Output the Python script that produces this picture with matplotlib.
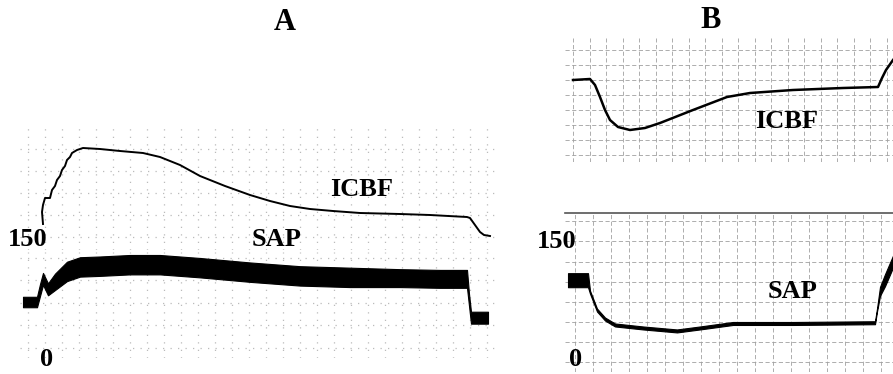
import numpy as np
import matplotlib
matplotlib.use("Agg")
import matplotlib.pyplot as plt

# panel A - ICBF trace (time s, flow arbitrary units)
a_icbf_t = [23, 22, 23, 25, 30, 32, 35, 37, 40, 42, 45, 47, 50, 52, 57, 63, 80, 100, 123, 140,
            160, 180, 205, 230, 250, 270, 290, 313, 340, 380, 410, 447, 450, 455, 460, 464, 470]
a_icbf_v = [21, 33, 40, 47, 47, 55, 59, 65, 69, 75, 79, 85, 88, 92, 95, 97, 96, 94, 92, 88,
            80, 69, 59, 50, 44, 39, 36, 34, 32, 31, 30, 28, 27, 20, 13, 10, 9]

# panel A - SAP (mean mmHg and half pulse amplitude)
a_sap_t = [3, 17, 20, 23, 28, 35, 47, 60, 80, 110, 140, 180, 230, 280, 330, 380, 420, 447, 449, 451, 468]
a_sap_mean = [71, 71, 87, 102, 88, 98, 112, 118, 119, 121, 121, 117, 111, 106, 104, 103, 102, 102, 74, 50, 50]
a_sap_half = [7, 7, 8, 8, 8, 11, 13, 13, 13, 13, 13, 13, 13, 13, 13, 12, 12, 12, 8, 8, 8]

# panel B - ICBF trace
b_icbf_t = [8, 25, 30, 35, 40, 45, 53, 65, 80, 95, 128, 162, 185, 228, 278, 313, 317, 321, 328]
b_icbf_v = [80, 81, 75, 63, 50, 40, 33, 30, 32, 37, 50, 63, 67, 70, 72, 73, 82, 90, 100]

# panel B - SAP
b_sap_t = [3, 23, 25, 32, 40, 50, 78, 112, 135, 168, 228, 310, 312, 315, 320, 328]
b_sap_mean = [100, 100, 84, 60, 48, 40, 36, 32, 36, 42, 42, 43, 60, 85, 100, 125]
b_sap_half = [9.4, 9.4, 2, 2, 2, 2, 2, 2, 2, 2, 2, 2, 2, 6, 8, 8]

W, H = 893, 374
fig = plt.figure(figsize=(W / 100, H / 100), dpi=100)
fig.patch.set_facecolor("white")

serif = {"family": "Liberation Serif", "weight": "bold"}


def px_axes(x0, y0, x1, y1):
    ax = fig.add_axes([x0 / W, 1 - y1 / H, (x1 - x0) / W, (y1 - y0) / H])
    ax.tick_params(length=0, labelbottom=False, labelleft=False)
    for s in ax.spines.values():
        s.set_visible(False)
    ax.set_facecolor("none")
    ax.set_axisbelow(True)
    return ax


# ---- panel A ----
axA1 = px_axes(20, 128, 495, 250)
axA1.set_xlim(0, 475)
axA1.set_ylim(-5, 117)
axA1.set_xticks(np.arange(8, 475, 17))
axA1.set_yticks(np.arange(8, 117, 22))
axA1.grid(True, color="#bbbbbb", linestyle=(0, (1, 5)), linewidth=0.9)
axA1.plot(a_icbf_t, a_icbf_v, color="black", linewidth=1.4, zorder=3)

axA2 = px_axes(20, 252, 495, 358)
axA2.set_xlim(0, 475)
axA2.set_ylim(-4, 138)
axA2.set_xticks(np.arange(8, 475, 17))
axA2.set_yticks(np.arange(10, 138, 30))
axA2.grid(True, color="#bbbbbb", linestyle=(0, (1, 5)), linewidth=0.9)
lo = np.array(a_sap_mean) - np.array(a_sap_half)
hi = np.array(a_sap_mean) + np.array(a_sap_half)
axA2.fill_between(a_sap_t, lo, hi, color="black", linewidth=0.8, zorder=3)

# ---- panel B ----
axB1 = px_axes(565, 38, 893, 162)
axB1.set_xlim(0, 328)
axB1.set_ylim(-2, 122)
axB1.set_xticks(np.arange(8, 328, 16.5))
axB1.set_yticks(np.arange(5, 122, 15))
axB1.grid(True, color="#a0a0a0", linestyle=(0, (5, 3)), linewidth=0.6)
axB1.plot(b_icbf_t, b_icbf_v, color="black", linewidth=1.8, zorder=3)

axB2 = px_axes(565, 213, 893, 372)
axB2.set_xlim(0, 328)
axB2.set_ylim(-23, 190)
axB2.set_xticks(np.arange(10, 328, 18))
axB2.set_yticks(np.arange(-10, 190, 27))
axB2.grid(True, color="#a0a0a0", linestyle=(0, (5, 3)), linewidth=0.6)
axB2.spines["top"].set_visible(True)
axB2.spines["top"].set_color("#555555")
axB2.spines["top"].set_linewidth(1.2)
lo = np.array(b_sap_mean) - np.array(b_sap_half)
hi = np.array(b_sap_mean) + np.array(b_sap_half)
axB2.fill_between(b_sap_t, lo, hi, color="black", linewidth=0.8, zorder=3)


# ---- text ----
def ftext(x, y, s, size):
    fig.text(x / W, 1 - y / H, s, ha="center", va="center", fontsize=size, **serif)


ftext(285, 22, "A", 22)
ftext(711, 21, "B", 22)
ftext(28, 240, "150", 19)
ftext(47, 360, "0", 19)
ftext(362, 190, "ICBF", 19)
ftext(277, 240, "SAP", 19)
ftext(557, 241, "150", 19)
ftext(576, 360, "0", 19)
ftext(787, 122, "ICBF", 19)
ftext(793, 292, "SAP", 19)

fig.savefig("out.png", dpi=100, facecolor="white")
